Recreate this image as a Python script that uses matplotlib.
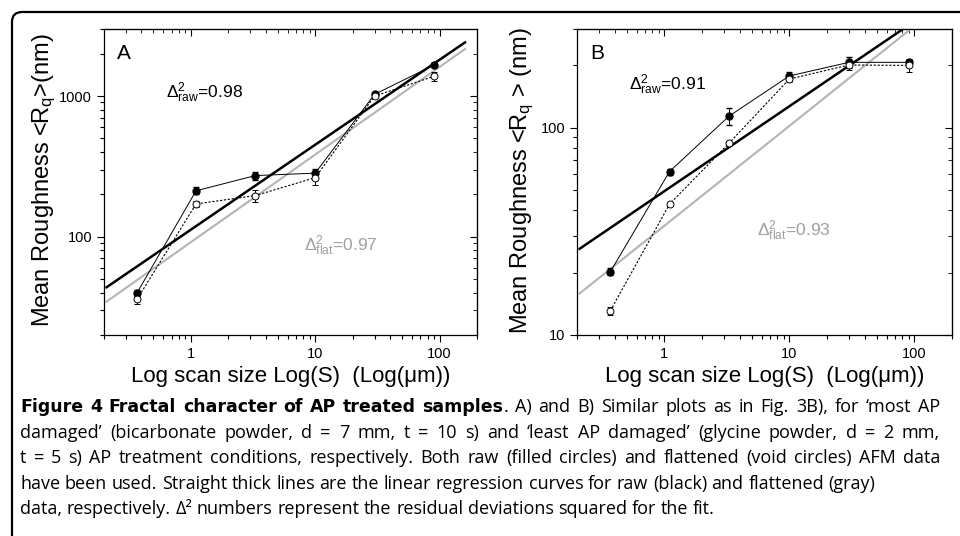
import numpy as np
import matplotlib
matplotlib.use('Agg')
import matplotlib.pyplot as plt
from matplotlib.patches import FancyBboxPatch
from matplotlib.transforms import IdentityTransform

plt.rcParams['font.family'] = ['Liberation Sans', 'DejaVu Sans']
plt.rcParams['mathtext.fontset'] = 'custom'
plt.rcParams['mathtext.rm'] = 'Liberation Sans'
plt.rcParams['mathtext.it'] = 'Liberation Sans'

# scan sizes (um)
scan_size = [0.37, 1.1, 3.3, 10, 30, 90]

# panel A - most AP damaged
a_raw = [40, 212, 272, 283, 1028, 1660]
a_raw_err = [2, 12, 18, 20, 40, 60]
a_flat = [36, 171, 196, 263, 1000, 1380]
a_flat_err = [3, 8, 20, 30, 30, 110]
a_fit_raw = (0.604, 2.05)    # slope, intercept in log-log
a_fit_flat = (0.623, 1.961)

# panel B - least AP damaged
b_raw = [20.2, 61.5, 114, 178, 207, 207]
b_raw_err = [0.8, 2, 11, 8, 13, 6]
b_flat = [13.1, 42.8, 84.4, 172, 201, 200]
b_flat_err = [0.6, 1, 2, 6, 10, 15]
b_fit_raw = (0.41, 1.694)
b_fit_flat = (0.482, 1.527)

fit_range = np.array([0.21, 160])


def draw_panel(ax, raw, raw_err, flat, flat_err, fit_raw, fit_flat, ylim, letter):
    ax.set_xscale('log')
    ax.set_yscale('log')
    for slope, icpt, col, lw in [(fit_flat[0], fit_flat[1], '#b4b4b4', 1.5),
                                 (fit_raw[0], fit_raw[1], 'black', 1.8)]:
        ax.plot(fit_range, 10 ** (icpt + slope * np.log10(fit_range)), color=col, lw=lw, zorder=2)
    ax.errorbar(scan_size, raw, yerr=raw_err, color='black', lw=0.7, marker='o', ms=5,
                mfc='black', mec='black', capsize=2.5, elinewidth=0.7, zorder=3)
    ax.errorbar(scan_size, flat, yerr=flat_err, color='black', lw=0.8, ls=(0, (2, 1.5)), marker='o',
                ms=5, mfc='white', mec='black', mew=0.7, capsize=2.5, elinewidth=0.7, zorder=4)
    ax.set_xlim(0.2, 200)
    ax.set_ylim(*ylim)
    ax.tick_params(which='both', left=True, bottom=True, right=False, top=False, direction='out', labelsize=10.5)
    ax.tick_params(which='major', length=5, width=0.8)
    ax.tick_params(which='minor', length=3, width=0.8)
    ax.set_xticks([1, 10, 100])
    ax.set_xticklabels(['1', '10', '100'])
    # mirrored inward ticks on top and right
    sec = ax.secondary_xaxis('top')
    sec.tick_params(which='both', direction='in', labeltop=False)
    sec.tick_params(which='major', length=5)
    sec.tick_params(which='minor', length=3)
    sec.set_xticks([1, 10, 100])
    sec.set_xticklabels([])
    secy = ax.secondary_yaxis('right')
    secy.tick_params(which='both', direction='in', labelright=False)
    secy.tick_params(which='major', length=5)
    secy.tick_params(which='minor', length=3)
    secy.yaxis.set_major_formatter(plt.NullFormatter())
    secy.yaxis.set_minor_formatter(plt.NullFormatter())
    ax.set_xlabel('Log scan size Log(S)  (Log(\u03bcm))', fontsize=16, labelpad=4)
    ax.text(0.035, 0.92, letter, transform=ax.transAxes, fontsize=15, va='center', ha='left')
    for sp in ax.spines.values():
        sp.set_linewidth(0.9)


fig = plt.figure(figsize=(9.6, 5.36), dpi=100)
axA = fig.add_axes([0.1083, 0.375, 0.3886, 0.571])
axB = fig.add_axes([0.601, 0.375, 0.3907, 0.571])

draw_panel(axA, a_raw, a_raw_err, a_flat, a_flat_err, a_fit_raw, a_fit_flat, (20, 3000), 'A')
draw_panel(axB, b_raw, b_raw_err, b_flat, b_flat_err, b_fit_raw, b_fit_flat, (10, 300), 'B')
axA.set_yticks([100, 1000])
axA.set_yticklabels(['100', '1000'])
axB.set_yticks([10, 100])
axB.set_yticklabels(['10', '100'])

fig.text(0.046, 0.663, 'Mean Roughness <R$_{\\mathrm{q}}$>(nm)', rotation=90, fontsize=17,
         ha='center', va='center')
fig.text(0.544, 0.663, 'Mean Roughness <R$_{\\mathrm{q}}$ > (nm)', rotation=90, fontsize=17,
         ha='center', va='center')

axA.text(0.165, 0.775, r'$\Delta^{2}_{\mathrm{raw}}$=0.98', transform=axA.transAxes, fontsize=12.5)
axA.text(0.535, 0.275, r'$\Delta^{2}_{\mathrm{flat}}$=0.97', transform=axA.transAxes, fontsize=12.5,
         color='#a0a0a0')
axB.text(0.14, 0.80, r'$\Delta^{2}_{\mathrm{raw}}$=0.91', transform=axB.transAxes, fontsize=12.5)
axB.text(0.48, 0.325, r'$\Delta^{2}_{\mathrm{flat}}$=0.93', transform=axB.transAxes, fontsize=12.5,
         color='#a0a0a0')

# rounded frame (pixel coords)
frame = FancyBboxPatch((12, -60), 1100, 584, boxstyle='round,pad=0,rounding_size=10',
                       transform=IdentityTransform(), fill=False, lw=1.6, ec='black')
fig.patches.append(frame)

# caption
cap_font = ['Open Sans', 'DejaVu Sans']
cap_bold = 'Figure 4 Fractal character of AP treated samples'
cap_lines = [
    '. A) and B) Similar plots as in Fig. 3B), for \u2018most AP',
    'damaged\u2019 (bicarbonate powder, d = 7 mm, t = 10 s) and \u2018least AP damaged\u2019 (glycine powder, d = 2 mm,',
    't = 5 s) AP treatment conditions, respectively. Both raw (filled circles) and flattened (void circles) AFM data',
    'have been used. Straight thick lines are the linear regression curves for raw (black) and flattened (gray)',
    'data, respectively. \u0394\u00b2 numbers represent the residual deviations squared for the fit.',
]
cap_fs = 13
left_px, right_px = 20, 940
base0 = 412
line_dy = 25.6
renderer = fig.canvas.get_renderer()


def place_line(y_px, tokens, justify):
    # tokens: (text, bold, glued_to_previous)
    arts = []
    for word, is_bold, glue in tokens:
        if is_bold:
            t = fig.text(0, 1 - y_px / 536, word, family=['DejaVu Sans'], fontsize=cap_fs - 0.5,
                         fontweight='bold', va='baseline')
        else:
            t = fig.text(0, 1 - y_px / 536, word, family=cap_font, fontsize=cap_fs, va='baseline')
        arts.append((t, glue))
    widths = [a.get_window_extent(renderer).width for a, _ in arts]
    t1 = fig.text(0, 0, 'a a', family=cap_font, fontsize=cap_fs)
    t2 = fig.text(0, 0, 'aa', family=cap_font, fontsize=cap_fs)
    space = t1.get_window_extent(renderer).width - t2.get_window_extent(renderer).width
    t1.remove()
    t2.remove()
    n_gaps = sum(1 for _, g in arts[1:] if not g)
    gap = space
    if justify and n_gaps:
        gap = max(space, (right_px - left_px - sum(widths)) / n_gaps)
    x = left_px
    for (a, glue), w in zip(arts, widths):
        if glue:
            x -= gap
        a.set_x(x / 960)
        x += w + gap


tokens0 = [(w, True, False) for w in cap_bold.split()]
rest = cap_lines[0].split()
tokens0.append((rest[0], False, True))
tokens0 += [(w, False, False) for w in rest[1:]]
place_line(base0, tokens0, True)
for i, line in enumerate(cap_lines[1:], start=1):
    place_line(base0 + i * line_dy, [(w, False, False) for w in line.split()], i < 3)

fig.savefig('out.png', dpi=100)
